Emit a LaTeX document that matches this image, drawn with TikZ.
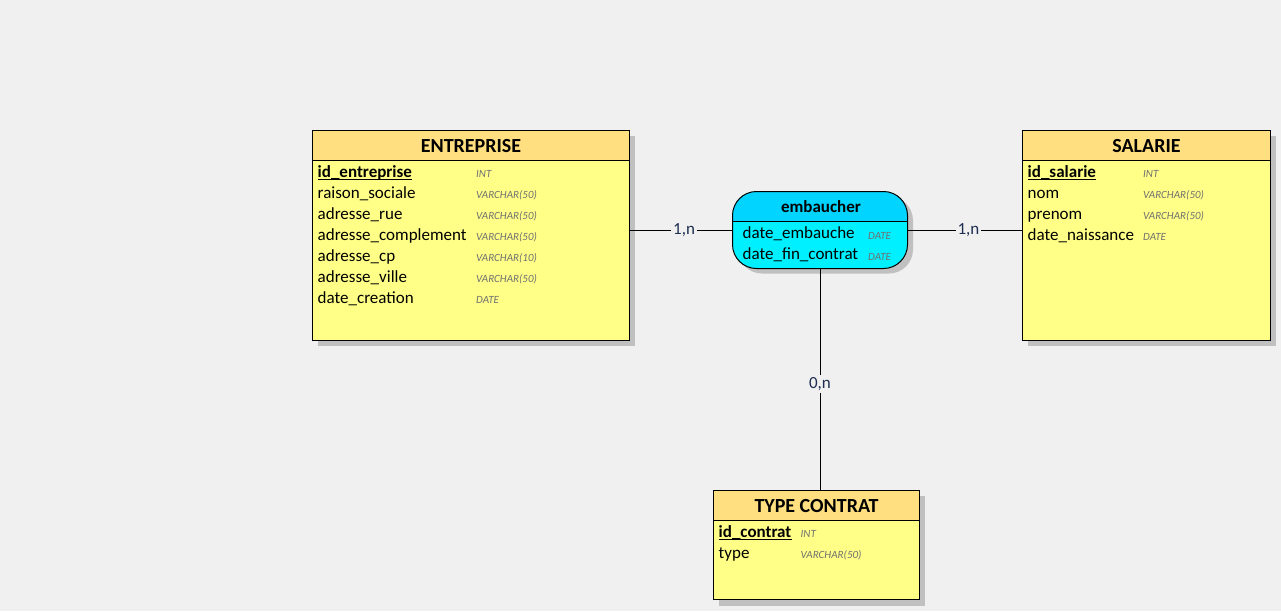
\documentclass[tikz,border=0pt]{standalone}
\usepackage{fontspec}
\setmainfont{Carlito}
\definecolor{bg}{HTML}{F0F0F0}
\definecolor{hdr}{HTML}{FFDF80}
\definecolor{bodyc}{HTML}{FFFF88}
\definecolor{cyhdr}{HTML}{00D4FF}
\definecolor{cybody}{HTML}{00F0FF}
\definecolor{shadowc}{HTML}{C0C0C0}
\definecolor{typec}{HTML}{707070}
\definecolor{cardc}{HTML}{1E2E50}
\tikzset{
 hdrbox/.style={draw, fill=hdr, line width=1pt, anchor=north west, inner sep=0pt, outer sep=0pt},
 bodybox/.style={draw, fill=bodyc, line width=1pt, anchor=north west, inner sep=0pt, outer sep=0pt},
 relbox/.style={draw, line width=1pt, rounded corners=24pt, anchor=north west, inner sep=0pt, outer sep=0pt},
 title/.style={anchor=base, inner sep=0pt, font=\fontsize{20}{22}\selectfont\bfseries},
 attr/.style={anchor=base west, inner sep=0pt, font=\fontsize{17}{19}\selectfont},
 keyattr/.style={anchor=base west, inner sep=0pt, font=\fontsize{17}{19}\selectfont\bfseries},
 dtype/.style={anchor=base west, inner sep=0pt, text=typec, font=\fontsize{11}{12}\selectfont\itshape},
 card/.style={fill=bg, inner sep=2pt, text=cardc, font=\fontsize{17}{19}\selectfont},
 link/.style={line width=1pt, draw=black},
 uline/.style={line width=1pt},
}
\begin{document}
\begin{tikzpicture}[x=1pt,y=-1pt]
\useasboundingbox (0,0) rectangle (1281,611);
\fill[bg] (0,0) rectangle (1281,611);

% ---------- ENTREPRISE ----------
\fill[shadowc] (317.5,135.5) rectangle (634.5,346);
\node[bodybox, minimum width=317pt, minimum height=210pt] (ent) at (312.5,130.5) {};
\node[hdrbox, minimum width=317pt, minimum height=30pt] (enth) at (312.5,130.5) {};
\node[title] (entt) at (471,152) {ENTREPRISE};
\node[keyattr] (e1) at (317.5,177) {id\_entreprise};
\draw[uline] ([yshift=-2.5pt]e1.base west) -- ([yshift=-2.5pt]e1.base east);
\node[attr] (e2) at (317.5,198) {raison\_sociale};
\node[attr] (e3) at (317.5,219) {adresse\_rue};
\node[attr] (e4) at (317.5,240) {adresse\_complement};
\node[attr] (e5) at (317.5,261) {adresse\_cp};
\node[attr] (e6) at (317.5,282) {adresse\_ville};
\node[attr] (e7) at (317.5,303) {date\_creation};
\node[dtype] (et1) at (476,177.5) {INT};
\node[dtype] (et2) at (476,198.5) {VARCHAR(50)};
\node[dtype] (et3) at (476,219.5) {VARCHAR(50)};
\node[dtype] (et4) at (476,240.5) {VARCHAR(50)};
\node[dtype] (et5) at (476,261.5) {VARCHAR(10)};
\node[dtype] (et6) at (476,282.5) {VARCHAR(50)};
\node[dtype] (et7) at (476,303.5) {DATE};

% ---------- SALARIE ----------
\fill[shadowc] (1027.5,135.5) rectangle (1275.5,346);
\node[bodybox, minimum width=248pt, minimum height=210pt] (sal) at (1022.5,130.5) {};
\node[hdrbox, minimum width=248pt, minimum height=30pt] (salh) at (1022.5,130.5) {};
\node[title] (salt) at (1146.5,152) {SALARIE};
\node[keyattr] (s1) at (1027.5,177) {id\_salarie};
\draw[uline] ([yshift=-2.5pt]s1.base west) -- ([yshift=-2.5pt]s1.base east);
\node[attr] (s2) at (1027.5,198) {nom};
\node[attr] (s3) at (1027.5,219) {prenom};
\node[attr] (s4) at (1027.5,240) {date\_naissance};
\node[dtype] (st1) at (1143,177.5) {INT};
\node[dtype] (st2) at (1143,198.5) {VARCHAR(50)};
\node[dtype] (st3) at (1143,219.5) {VARCHAR(50)};
\node[dtype] (st4) at (1143,240.5) {DATE};

% ---------- TYPE CONTRAT ----------
\fill[shadowc] (719,496) rectangle (925,606);
\node[bodybox, minimum width=206pt, minimum height=109pt] (tc) at (713.5,490.5) {};
\node[hdrbox, minimum width=206pt, minimum height=30pt] (tch) at (713.5,490.5) {};
\node[title] (tct) at (816.5,512) {TYPE CONTRAT};
\node[keyattr] (c1) at (718.5,537) {id\_contrat};
\draw[uline] ([yshift=-2.5pt]c1.base west) -- ([yshift=-2.5pt]c1.base east);
\node[attr] (c2) at (718.5,558) {type};
\node[dtype] (ct1) at (800.5,537.5) {INT};
\node[dtype] (ct2) at (800.5,558.5) {VARCHAR(50)};

% ---------- embaucher ----------
\fill[shadowc, rounded corners=24pt] (738,196.5) rectangle (913,273.5);
\fill[cybody, rounded corners=24pt] (732.5,191.5) rectangle (907.5,268.5);
\begin{scope}
\clip (730,189) rectangle (910,221);
\fill[cyhdr, rounded corners=24pt] (732.5,191.5) rectangle (907.5,268.5);
\end{scope}
\node[relbox, minimum width=175pt, minimum height=77pt] (emb) at (732.5,191.5) {};
\draw[line width=1pt] (732.5,221) -- (907.5,221);
\node[title, font=\fontsize{17}{19}\selectfont\bfseries] (embt) at (821,212) {embaucher};
\node[attr] (r1) at (742.5,238.5) {date\_embauche};
\node[attr] (r2) at (742.5,259.5) {date\_fin\_contrat};
\node[dtype] (rt1) at (868,239) {DATE};
\node[dtype] (rt2) at (868,260) {DATE};

% ---------- connectors ----------
\draw[link] (emb.west -| ent.east) -- (emb.west) node[card, pos=0.53] (k1) {1,n};
\draw[link] (emb.east) -- (emb.east -| sal.west) node[card, pos=0.53] (k2) {1,n};
\draw[link] (emb.south) -- (emb.south |- tc.north) node[card, pos=0.52] (k3) {0,n};
\end{tikzpicture}
\end{document}
